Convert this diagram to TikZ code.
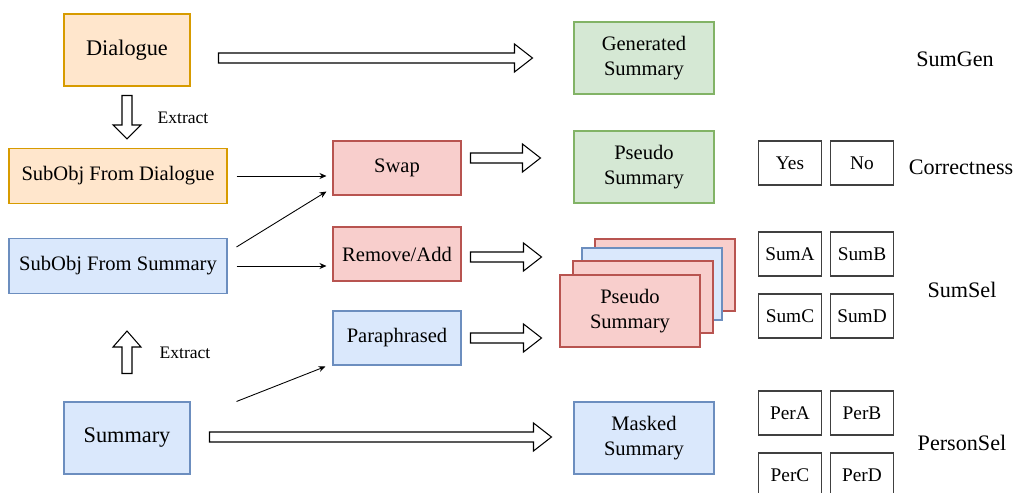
\documentclass[tikz,border=0pt]{standalone}
\usepackage{fontspec}
\setmainfont{Liberation Serif}
\usetikzlibrary{arrows.meta,calc}

\definecolor{orgfill}{HTML}{FFE6CC}
\definecolor{orgdraw}{HTML}{D79B00}
\definecolor{grnfill}{HTML}{D5E8D4}
\definecolor{grndraw}{HTML}{82B366}
\definecolor{blufill}{HTML}{DAE8FC}
\definecolor{bludraw}{HTML}{6C8EBF}
\definecolor{redfill}{HTML}{F8CECC}
\definecolor{reddraw}{HTML}{B85450}

% Hollow block arrow between two points: [head length]{from}{to}
\newcommand{\fatarrow}[3][0.36cm]{%
  \path (#2) coordinate (fa1) (#3) coordinate (fa2);
  \coordinate (faq) at ($(fa2)!#1!(fa1)$);
  \draw[fatarr] ($(fa1)!0.1cm!90:(fa2)$) -- ($(faq)!0.1cm!90:(fa2)$)
    -- ($(faq)!0.28cm!90:(fa2)$) -- (fa2) -- ($(faq)!0.28cm!-90:(fa2)$)
    -- ($(faq)!0.1cm!-90:(fa2)$) -- ($(fa1)!0.1cm!-90:(fa2)$) -- cycle;}

\begin{document}
\begin{tikzpicture}
[
    x=0.02cm, y=-0.02cm,
    box/.style={draw, line width=0.6pt, inner sep=0pt, align=center,
        font=\fontsize{11.7}{14.2}\selectfont},
    orgbox/.style={box, fill=orgfill, draw=orgdraw},
    grnbox/.style={box, fill=grnfill, draw=grndraw},
    blubox/.style={box, fill=blufill, draw=bludraw},
    redbox/.style={box, fill=redfill, draw=reddraw},
    plainbox/.style={box, fill=white, draw=black!75, minimum width=1.26cm,
        minimum height=0.88cm, font=\fontsize{11}{13}\selectfont},
    srcsize/.style={minimum width=2.52cm, minimum height=1.44cm,
        font=\fontsize{12.7}{15}\selectfont},
    objsize/.style={minimum width=4.36cm, minimum height=1.1cm},
    opsize/.style={minimum width=2.56cm, minimum height=1.08cm},
    outsize/.style={minimum width=2.8cm, minimum height=1.44cm},
    lbl/.style={font=\fontsize{12.6}{15}\selectfont},
    extr/.style={font=\fontsize{10}{12}\selectfont},
    conn/.style={-{Stealth[length=0.14cm,width=0.12cm]}, line width=0.5pt},
    fatarr/.style={draw=black, fill=white, line width=0.6pt, line join=miter},
]

\useasboundingbox (0,0) rectangle (1015,493);
\clip (0,0) rectangle (1015,493);

% Source boxes
\node[orgbox, srcsize] (dlg) at (127,50) {Dialogue};
\node[blubox, srcsize] (sum) at (127,438) {Summary};
\node[orgbox, objsize] (sod) at (118,176) {SubObj From Dialogue};
\node[blubox, objsize] (sos) at (118,266) {SubObj From Summary};

% Operations
\node[redbox, opsize] (swap) at (397,168) {Swap};
\node[redbox, opsize] (rem) at (397,254) {Remove/Add};
\node[blubox, opsize] (para) at (397,338) {Paraphrased};

% Outputs
\node[grnbox, outsize] (gen) at (644,58) {Generated\\Summary};
\node[grnbox, outsize] (ps1) at (644,167) {Pseudo\\Summary};
\node[redbox, outsize] (st1) at (665,275) {};
\node[blubox, outsize] (st2) at (652,284) {};
\node[redbox, outsize] (st3) at (643,297) {};
\node[redbox, outsize] (st4) at (630,311) {Pseudo\\Summary};
\node[blubox, outsize] (msk) at (644,438) {Masked\\Summary};

% Choices
\node[plainbox] (yes) at (790,163) {Yes};
\node[plainbox] (no) at (862,163) {No};
\node[plainbox] (sa) at (790,254) {SumA};
\node[plainbox] (sb) at (862,254) {SumB};
\node[plainbox] (sc) at (790,316) {SumC};
\node[plainbox] (sd) at (862,316) {SumD};
\node[plainbox] (pa) at (790,413) {PerA};
\node[plainbox] (pb) at (862,413) {PerB};
\node[plainbox] (pc) at (790,475) {PerC};
\node[plainbox] (pd) at (862,475) {PerD};

% Task labels
\node[lbl] (tgen) at (955,59) {SumGen};
\node[lbl] (tcor) at (961,167) {Correctness};
\node[lbl] (tsel) at (962,290) {SumSel};
\node[lbl] (tper) at (962,443) {PersonSel};
\node[extr] (ex1) at (183,118) {Extract};
\node[extr] (ex2) at (185,353) {Extract};

% Thin arrows
\draw[conn] ($(sod.east)+(9,0)$) -- ($(swap.west|-sod.east)+(-6,0)$);
\draw[conn] ($(sos.north east)+(9,9)$) -- ($(swap.south west)+(-6,-4)$);
\draw[conn] ($(sos.east)+(9,0)$) -- ($(rem.west|-sos.east)+(-6,0)$);
\draw[conn] ($(sum.north east)+(46,0)$) -- ($(para.south west)+(-7,1)$);

% Hollow arrows
\fatarrow{$(dlg.east|-gen.west)+(28,0)$}{$(gen.west)+(-41,0)$}
\fatarrow[0.28cm]{$(dlg.south)+(0,9)$}{$(dlg.south|-sod.north)+(0,-9)$}
\fatarrow[0.32cm]{$(sum.north)+(0,-28)$}{$(sum.north|-sos.south)+(0,37)$}
\fatarrow{$(swap.east)+(9,-10)$}{$(ps1.west)+(-33,-9)$}
\fatarrow{$(rem.east)+(9,3)$}{$(rem.east)+(80,3)$}
\fatarrow{$(para.east)+(9,0)$}{$(para.east)+(80,0)$}
\fatarrow{$(sum.east)+(19,-1)$}{$(msk.west)+(-22,-1)$}

\end{tikzpicture}
\end{document}
